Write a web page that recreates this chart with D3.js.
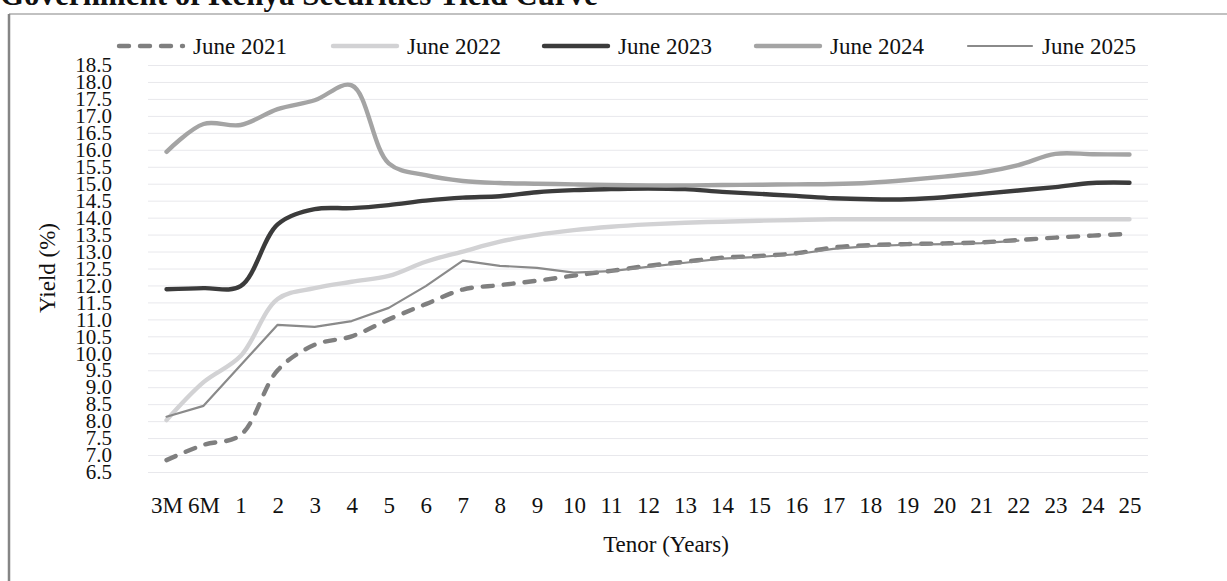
<!DOCTYPE html>
<html>
<head>
<meta charset="utf-8">
<script src="https://cdn.jsdelivr.net/npm/d3@7/dist/d3.min.js"></script>
<style>
  html, body { margin: 0; padding: 0; background: #ffffff; }
  svg { display: block; }
  text { font-family: "Liberation Serif", "Times New Roman", serif; fill: #111; }
</style>
</head>
<body>
<svg id="chart" width="1227" height="581"></svg>
<script>
// Tenor buckets along the x axis
const tenors = ["3M", "6M", "1", "2", "3", "4", "5", "6", "7", "8", "9", "10", "11", "12",
  "13", "14", "15", "16", "17", "18", "19", "20", "21", "22", "23", "24", "25"];

// Yields (%) per tenor for each June curve
const june2021 = [6.85, 7.30, 7.59, 9.50, 10.25, 10.50, 11.00, 11.45, 11.88, 12.01, 12.14, 12.29, 12.43,
  12.58, 12.70, 12.82, 12.87, 12.95, 13.12, 13.19, 13.22, 13.24, 13.27, 13.34, 13.41, 13.47, 13.52];
const june2022 = [8.03, 9.15, 9.92, 11.60, 11.92, 12.11, 12.28, 12.70, 13.00, 13.29, 13.49, 13.63, 13.73,
  13.80, 13.85, 13.88, 13.91, 13.93, 13.95, 13.95, 13.95, 13.95, 13.95, 13.95, 13.95, 13.95, 13.95];
const june2023 = [11.89, 11.92, 11.98, 13.80, 14.25, 14.28, 14.37, 14.50, 14.59, 14.63, 14.75, 14.81, 14.84,
  14.86, 14.84, 14.76, 14.70, 14.64, 14.57, 14.54, 14.54, 14.60, 14.70, 14.80, 14.90, 15.02, 15.03];
const june2024 = [15.94, 16.76, 16.73, 17.20, 17.46, 17.90, 15.60, 15.25, 15.08, 15.02, 15.00, 14.98, 14.96,
  14.95, 14.95, 14.96, 14.97, 14.98, 14.99, 15.03, 15.11, 15.21, 15.33, 15.55, 15.88, 15.87, 15.86];
const june2025 = [8.13, 8.45, 9.65, 10.84, 10.78, 10.95, 11.34, 11.98, 12.73, 12.58, 12.52, 12.38, 12.42,
  12.55, 12.67, 12.79, 12.84, 12.92, 13.08, 13.16, 13.20, 13.22, 13.25, 13.32, null, null, null];

const seriesNames = ["June 2021", "June 2022", "June 2023", "June 2024", "June 2025"];
const seriesValues = [june2021, june2022, june2023, june2024, june2025];

// Y axis tick labels
const yTickValues = [6.5, 7.0, 7.5, 8.0, 8.5, 9.0, 9.5, 10.0, 10.5, 11.0, 11.5, 12.0, 12.5,
  13.0, 13.5, 14.0, 14.5, 15.0, 15.5, 16.0, 16.5, 17.0, 17.5, 18.0, 18.5];

const chartTitle = "Government of Kenya Securities Yield Curve";
const xTitle = "Tenor (Years)";
const yTitle = "Yield (%)";

// Line styling per series
const styles = [
  { color: "#7f7f7f", width: 4.4, dash: "10,11", curve: d3.curveCatmullRom.alpha(0.5) },
  { color: "#d2d2d4", width: 4.4, dash: null, curve: d3.curveCatmullRom.alpha(0.5) },
  { color: "#3b3b3b", width: 4.4, dash: null, curve: d3.curveCatmullRom.alpha(0.5) },
  { color: "#a4a4a4", width: 4.4, dash: null, curve: d3.curveCatmullRom.alpha(0.5) },
  { color: "#8a8a8a", width: 2.2, dash: null, curve: d3.curveLinear }
];

const svg = d3.select("#chart");
const plot = { left: 148, right: 1148, top: 65, bottom: 472 };

const x = d3.scalePoint().domain(tenors).range([plot.left, plot.right]).padding(0.5);
const y = d3.scaleLinear().domain([6.5, 18.5]).range([plot.bottom, plot.top]);

// Title, partly above the page edge
svg.append("text")
  .attr("x", 0).attr("y", 5)
  .attr("font-size", 31).attr("font-weight", "bold")
  .text(chartTitle);

// Chart frame
svg.append("line").attr("x1", 9).attr("x2", 1227).attr("y1", 14).attr("y2", 14)
  .attr("stroke", "#adadad").attr("stroke-width", 1.5);
svg.append("line").attr("x1", 9).attr("x2", 9).attr("y1", 14).attr("y2", 581)
  .attr("stroke", "#858585").attr("stroke-width", 2.5);

// Horizontal gridlines
const grid = svg.append("g").attr("transform", `translate(${plot.left},0)`)
  .call(d3.axisLeft(y).tickValues(yTickValues).tickSize(-(plot.right - plot.left)).tickFormat(""));
grid.select(".domain").remove();
grid.selectAll(".tick line").attr("stroke", "#e8e8ec").attr("stroke-width", 1);

// Y axis labels
const yAxis = svg.append("g").attr("transform", `translate(${plot.left},0)`)
  .call(d3.axisLeft(y).tickValues(yTickValues).tickSize(0).tickPadding(36).tickFormat(d3.format(".1f")));
yAxis.select(".domain").remove();
yAxis.selectAll("text").attr("font-size", 21).attr("font-family", "Liberation Serif, serif").attr("fill", "#111");

// X axis labels
const xAxis = svg.append("g").attr("transform", `translate(0,${plot.bottom})`)
  .call(d3.axisBottom(x).tickSize(0).tickPadding(25));
xAxis.select(".domain").remove();
xAxis.selectAll("text").attr("font-size", 23).attr("font-family", "Liberation Serif, serif").attr("fill", "#111");

// Axis titles
svg.append("text")
  .attr("x", 666).attr("y", 552)
  .attr("text-anchor", "middle").attr("font-size", 23)
  .text(xTitle);
svg.append("text")
  .attr("transform", "translate(50,268) rotate(-90)")
  .attr("text-anchor", "middle").attr("dominant-baseline", "middle").attr("font-size", 23)
  .text(yTitle);

// Series lines
seriesValues.forEach((vals, i) => {
  const st = styles[i];
  const line = d3.line()
    .defined(d => d != null)
    .x((d, j) => x(tenors[j]))
    .y(d => y(d))
    .curve(st.curve);
  svg.append("path")
    .datum(vals)
    .attr("d", line)
    .attr("fill", "none")
    .attr("stroke", st.color)
    .attr("stroke-width", st.width)
    .attr("stroke-linecap", "round")
    .attr("stroke-linejoin", "round")
    .attr("stroke-dasharray", st.dash);
});

// Legend
const legendX = [193, 407, 618, 830, 1042];
const legendY = 46;
const legend = svg.append("g");
seriesNames.forEach((name, i) => {
  const st = styles[i];
  legend.append("line")
    .attr("x1", legendX[i] - 74).attr("x2", legendX[i] - 10)
    .attr("y1", legendY).attr("y2", legendY)
    .attr("stroke", st.color).attr("stroke-width", st.width)
    .attr("stroke-linecap", "round")
    .attr("stroke-dasharray", st.dash);
  legend.append("text")
    .attr("x", legendX[i]).attr("y", legendY + 8)
    .attr("font-size", 23)
    .text(name);
});
</script>
</body>
</html>
